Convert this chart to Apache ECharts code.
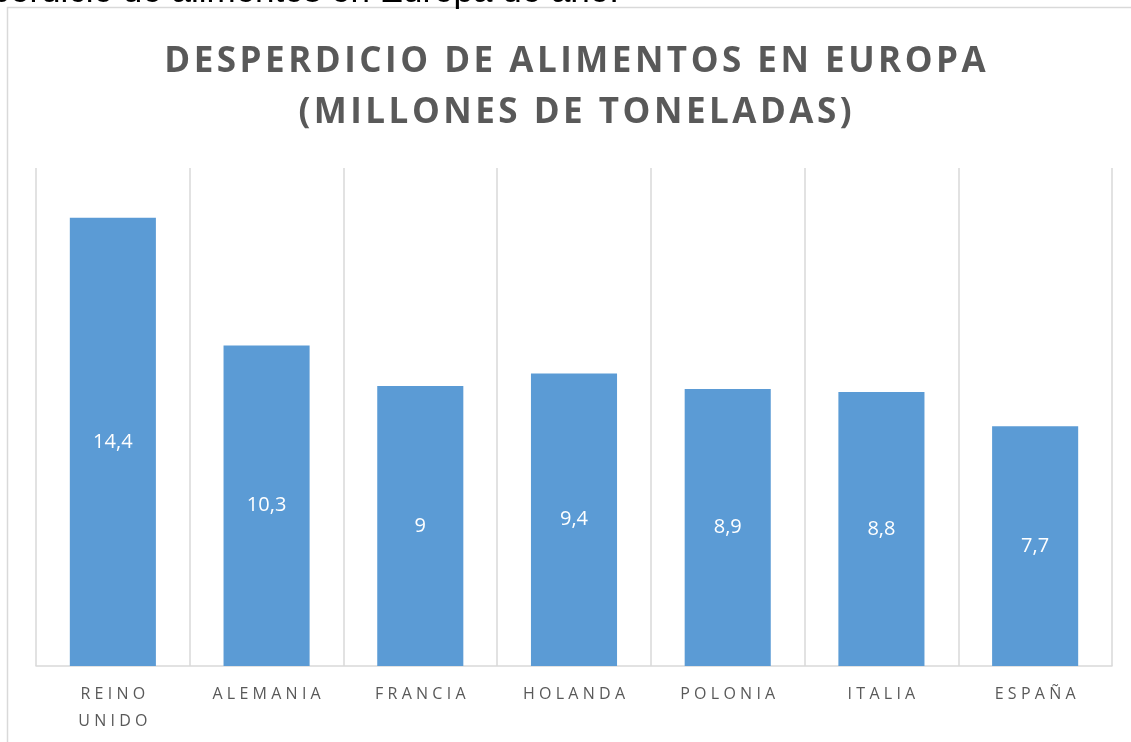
<!DOCTYPE html>
<html>
<head>
<meta charset="utf-8">
<script src="https://cdn.jsdelivr.net/npm/echarts@6/dist/echarts.min.js"></script>
<style>
  html, body { margin: 0; padding: 0; background: #fff; }
  #chart { width: 1131px; height: 742px; }
</style>
</head>
<body>
<div id="chart"></div>
<script>
var paises = ["REINO UNIDO", "ALEMANIA", "FRANCIA", "HOLANDA", "POLONIA", "ITALIA", "ESPAÑA"];
var toneladas = [14.4, 10.3, 9, 9.4, 8.9, 8.8, 7.7];
var titulo = ["DESPERDICIO DE ALIMENTOS EN EUROPA", "(MILLONES DE TONELADAS)"];
var textoArriba = "Desperdicio de alimentos en Europa de año.";

// Excel espacia las letras; aquí se imita con espacios finos
function espaciar(s, sep) {
  return s.split("").join(sep);
}

var myChart = echarts.init(document.getElementById("chart"));

var option = {
  animation: false,
  grid: { left: 36, right: 19, top: 168, bottom: 76 },
  graphic: [
    {
      type: "rect",
      shape: { x: 7.5, y: 7.5, width: 1300, height: 900 },
      style: { fill: "none", stroke: "#d9d9d9", lineWidth: 1.5 },
      silent: true
    },
    {
      type: "text",
      x: 619, y: 10,
      style: {
        text: textoArriba,
        textAlign: "right",
        textVerticalAlign: "bottom",
        fontFamily: "Liberation Sans",
        fontSize: 35,
        fill: "#000"
      }
    },
    {
      type: "text",
      x: 575, y: 37,
      style: {
        text: espaciar(titulo[0], "\u200A") + "\n" + espaciar(titulo[1], "\u200A"),
        textAlign: "center",
        fontFamily: "Open Sans",
        fontWeight: "bold",
        fontSize: 35,
        lineHeight: 51,
        fill: "#595959"
      }
    }
  ],
  xAxis: {
    type: "category",
    data: paises,
    axisLine: { lineStyle: { color: "#d9d9d9", width: 1.5 } },
    axisTick: { show: false },
    splitLine: { show: true, lineStyle: { color: "#d9d9d9", width: 1.5 } },
    axisLabel: {
      interval: 0,
      margin: 15,
      fontFamily: "Open Sans",
      fontSize: 16,
      lineHeight: 27,
      color: "#595959",
      formatter: function (v) {
        return v.split(" ").map(function (w) { return espaciar(w, "\u2009\u200A"); }).join("\n");
      }
    }
  },
  yAxis: {
    type: "value",
    min: 0,
    max: 16,
    show: false,
    splitLine: { show: false }
  },
  series: [
    {
      type: "bar",
      data: toneladas,
      barWidth: "56%",
      itemStyle: { color: "#5b9bd5" },
      label: {
        show: true,
        position: "inside",
        color: "#fff",
        fontFamily: "Open Sans",
        fontSize: 20,
        formatter: function (p) {
          return String(p.value).replace(".", ",");
        }
      }
    }
  ]
};

myChart.setOption(option);
</script>
</body>
</html>
